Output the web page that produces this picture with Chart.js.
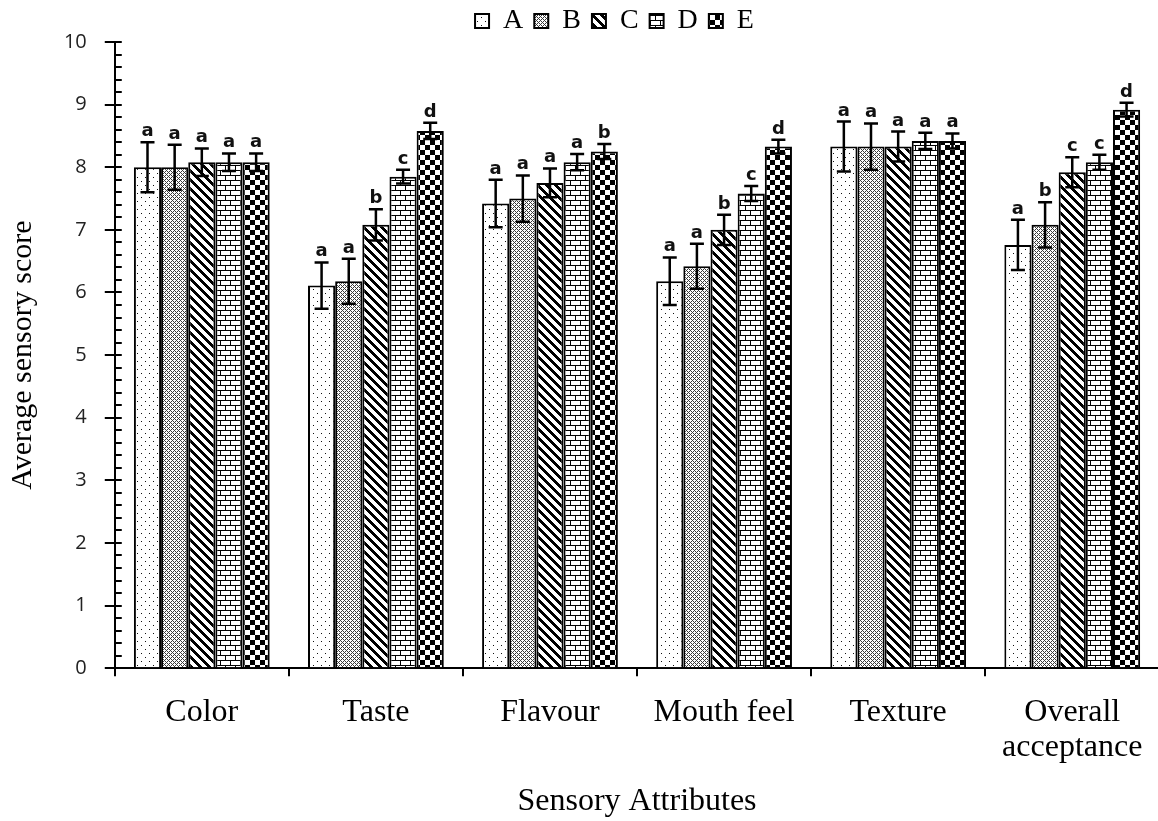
<!DOCTYPE html>
<html>
<head>
<meta charset="utf-8">
<script src="https://cdn.jsdelivr.net/npm/chart.js@4.4.1/dist/chart.umd.min.js"></script>
<style>
   html, body { margin: 0; padding: 0; background: #fff; overflow: hidden; }
   canvas { display: block; }
</style>
</head>
<body>
<canvas id="canvas" width="1161" height="821"></canvas>
<script>
'use strict';

// categories and series
const categories = ['Color', 'Taste', 'Flavour', 'Mouth feel', 'Texture', ['Overall', 'acceptance']];
const seriesNames = ['A', 'B', 'C', 'D', 'E'];

const scoresA = [8.00, 6.11, 7.42, 6.18, 8.33, 6.76];
const scoresB = [8.00, 6.18, 7.50, 6.42, 8.33, 7.08];
const scoresC = [8.08, 7.08, 7.75, 7.00, 8.33, 7.92];
const scoresD = [8.08, 7.85, 8.08, 7.58, 8.42, 8.08];
const scoresE = [8.08, 8.58, 8.25, 8.33, 8.42, 8.92];

const errorsA = [0.40, 0.37, 0.38, 0.38, 0.40, 0.40];
const errorsB = [0.36, 0.36, 0.37, 0.36, 0.37, 0.36];
const errorsC = [0.22, 0.25, 0.23, 0.24, 0.24, 0.24];
const errorsD = [0.14, 0.11, 0.13, 0.12, 0.13, 0.12];
const errorsE = [0.14, 0.13, 0.12, 0.11, 0.12, 0.11];

const lettersA = ['a', 'a', 'a', 'a', 'a', 'a'];
const lettersB = ['a', 'a', 'a', 'a', 'a', 'b'];
const lettersC = ['a', 'b', 'a', 'b', 'a', 'c'];
const lettersD = ['a', 'c', 'a', 'c', 'a', 'c'];
const lettersE = ['a', 'd', 'b', 'd', 'a', 'd'];

const yTicks = [0, 1, 2, 3, 4, 5, 6, 7, 8, 9, 10];
const minorStep = 0.2;

const SERIF = '"Liberation Serif", "Times New Roman", serif';

let ctx = document.querySelector('#canvas').getContext('2d');

function makePattern(w, h, draw) {
   let c = document.createElement('canvas');
   c.width = w;
   c.height = h;
   let g = c.getContext('2d');
   g.fillStyle = '#fff';
   g.fillRect(0, 0, w, h);
   draw(g);
   return ctx.createPattern(c, 'repeat');
}

// A: sparse dots
let dots = makePattern(8, 8, g => {
   g.fillStyle = '#111';
   g.fillRect(1, 1, 1, 1);
   g.fillRect(5, 5, 1, 1);
});
// B: fine grey diagonal mesh
let mesh = makePattern(4, 4, g => {
   g.fillStyle = '#3a3a3a';
   for (let y = 0; y < 4; y++) {
      for (let x = 0; x < 4; x++) {
         if ((x + y) % 4 === 0 || ((x - y) % 4 + 4) % 4 === 0) {
            g.fillRect(x, y, 1, 1);
         }
      }
   }
});
// C: wide diagonal stripes
let stripes = makePattern(9, 9, g => {
   g.fillStyle = '#000';
   for (let y = 0; y < 9; y++) {
      for (let x = 0; x < 9; x++) {
         if (((x - y) % 9 + 9) % 9 < 4) {
            g.fillRect(x, y, 1, 1);
         }
      }
   }
});
// D: bricks
let bricks = makePattern(10, 10, g => {
   g.fillStyle = '#000';
   g.fillRect(0, 0, 10, 1);
   g.fillRect(0, 5, 10, 1);
   g.fillRect(0, 0, 1, 5);
   g.fillRect(5, 5, 1, 5);
});
// E: checkerboard
let checks = makePattern(10, 10, g => {
   g.fillStyle = '#000';
   g.fillRect(0, 0, 5, 5);
   g.fillRect(5, 5, 5, 5);
});

function series(i, data, errors, letters, fill) {
   return {
      label: seriesNames[i],
      data,
      errors,
      letters,
      backgroundColor: fill,
      borderColor: '#000',
      borderWidth: 2,
      categoryPercentage: 0.78,
      barPercentage: 1.0
   };
}

const errorBars = {
   id: 'errorBars',
   afterDatasetsDraw(chart) {
      let c = chart.ctx;
      let yScale = chart.scales.y;
      c.save();
      c.strokeStyle = '#000';
      c.lineWidth = 2.5;
      c.fillStyle = '#111';
      c.font = 'bold 18px "DejaVu Sans"';
      c.textAlign = 'center';
      c.textBaseline = 'alphabetic';
      chart.data.datasets.forEach((ds, i) => {
         chart.getDatasetMeta(i).data.forEach((bar, j) => {
            let top = yScale.getPixelForValue(ds.data[j] + ds.errors[j]);
            let bottom = yScale.getPixelForValue(ds.data[j] - ds.errors[j]);
            c.beginPath();
            c.moveTo(bar.x, top);
            c.lineTo(bar.x, bottom);
            c.moveTo(bar.x - 7, top);
            c.lineTo(bar.x + 7, top);
            c.moveTo(bar.x - 7, bottom);
            c.lineTo(bar.x + 7, bottom);
            c.stroke();
            c.fillText(ds.letters[j], bar.x, top - 6);
         });
      });
      c.restore();
   }
};

// small inward ticks on the y axis every 0.2
const minorTicks = {
   id: 'minorTicks',
   afterDraw(chart) {
      let c = chart.ctx;
      let yScale = chart.scales.y;
      let left = chart.chartArea.left;
      c.save();
      c.strokeStyle = '#000';
      c.lineWidth = 2;
      c.beginPath();
      let steps = Math.round(yTicks[yTicks.length - 1] / minorStep);
      for (let k = 0; k <= steps; k++) {
         let y = Math.round(yScale.getPixelForValue(k * minorStep));
         c.moveTo(left, y);
         c.lineTo(left + 7, y);
      }
      c.stroke();
      c.restore();
   }
};

// legend sits a bit right of centre and slightly lower in the original
const legendShift = {
   id: 'legendShift',
   afterLayout(chart) {
      chart.legend.left += 68;
      chart.legend.top += 3;
   }
};

new Chart(ctx, {
   type: 'bar',
   data: {
      labels: categories,
      datasets: [
         series(0, scoresA, errorsA, lettersA, dots),
         series(1, scoresB, errorsB, lettersB, mesh),
         series(2, scoresC, errorsC, lettersC, stripes),
         series(3, scoresD, errorsD, lettersD, bricks),
         series(4, scoresE, errorsE, lettersE, checks)
      ]
   },
   options: {
      responsive: false,
      animation: false,
      devicePixelRatio: 1,
      layout: {padding: {top: -7, left: 0, right: 0, bottom: 0}},
      plugins: {
         tooltip: {enabled: false},
         legend: {
            position: 'top',
            labels: {
               font: {family: SERIF, size: 28},
               color: '#000',
               boxWidth: 14,
               boxHeight: 14,
               padding: 11
            }
         }
      },
      scales: {
         x: {
            grid: {drawOnChartArea: false, color: '#000', lineWidth: 2, tickLength: 8, offset: true},
            border: {color: '#000', width: 2},
            ticks: {
               font: {family: SERIF, size: 32, lineHeight: 1.1},
               color: '#000',
               padding: 18.6,
               maxRotation: 0,
               autoSkip: false
            },
            title: {
               display: true,
               text: 'Sensory Attributes',
               font: {family: SERIF, size: 32, lineHeight: 1.1},
               color: '#000',
               padding: {top: 0, bottom: 2}
            }
         },
         y: {
            min: 0,
            max: 10,
            afterBuildTicks: axis => {
               axis.ticks = yTicks.map(v => ({value: v}));
            },
            grid: {drawOnChartArea: false, color: '#000', lineWidth: 2, tickLength: 10},
            border: {color: '#000', width: 2},
            ticks: {font: {family: '"Open Sans"', size: 20}, color: '#222', padding: 18},
            title: {
               display: true,
               text: 'Average sensory score',
               font: {family: SERIF, size: 30, lineHeight: 1.13},
               color: '#000',
               padding: {top: 6, bottom: 6}
            }
         }
      }
   },
   plugins: [errorBars, minorTicks, legendShift]
});
</script>
</body>
</html>
